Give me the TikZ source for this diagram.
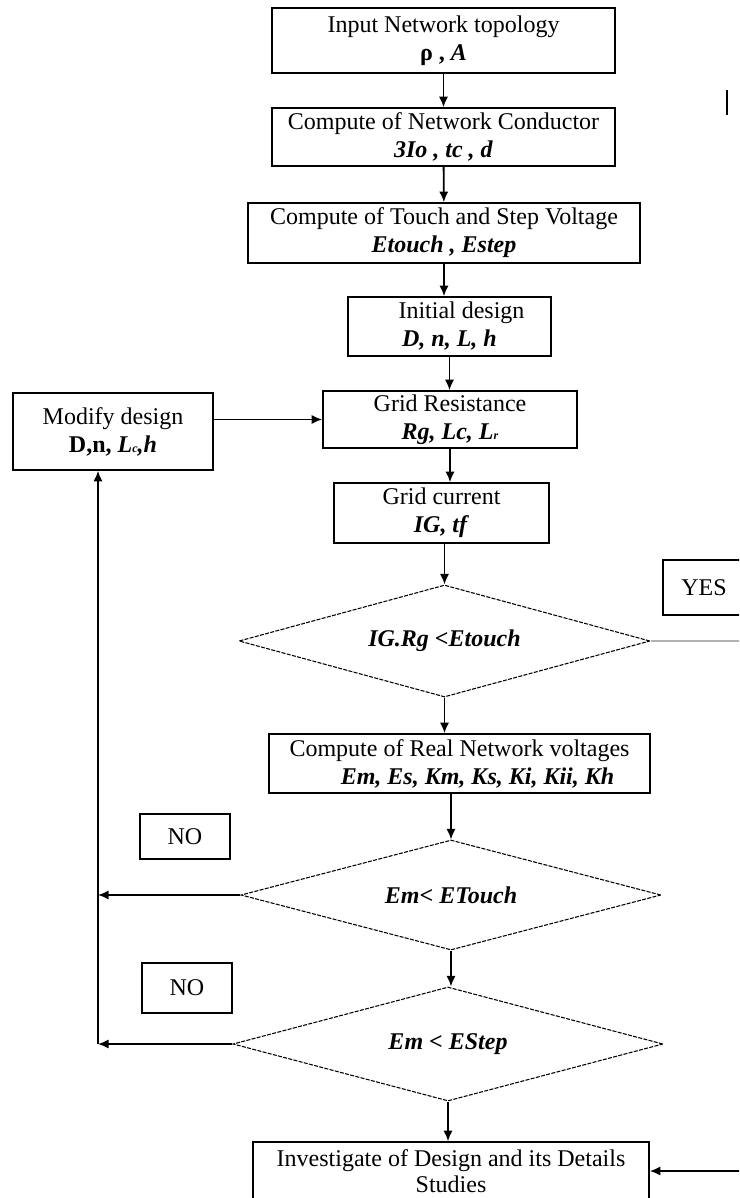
\documentclass[tikz,border=0pt]{standalone}
\usepackage{fontspec}
\setmainfont{Liberation Serif}
\usetikzlibrary{arrows.meta,shapes.geometric}

\begin{document}
\begin{tikzpicture}[
  x=0.75pt,y=-0.75pt,
  every node/.style={font=\fontsize{18}{21}\selectfont},
  procbox/.style 2 args={draw,line width=1.2pt,inner sep=0pt,align=center,minimum width=#1*0.75pt,minimum height=#2*0.75pt},
  testbox/.style 2 args={draw,diamond,aspect=3.7,line width=0.8pt,dash pattern=on 3pt off 1pt,inner sep=0pt,minimum width=#1*0.75pt,minimum height=#2*0.75pt,font=\fontsize{18}{21}\selectfont\bfseries\itshape},
  flow/.style={-{Latex[length=8pt,width=7pt]},line width=1.4pt}
]
  \useasboundingbox (0,0) rectangle (739,1198);
  \clip (0,0) rectangle (739,1198);

  \coordinate (loop) at (98,0);
  \coordinate (rim) at (745,0);

  \node[procbox={343}{65}] (topology) at (443.5,40.5) {Input Network topology\\\textbf{ρ , \textit{A}}};
  \node[procbox={343}{58}] (conductor) at (443.5,137) {Compute of Network Conductor\\\textbf{\textit{3Io , tc , d}}};
  \node[procbox={392}{60}] (voltage) at (444,233) {Compute of Touch and Step Voltage\\\textbf{\textit{Etouch , Estep}}};
  \node[procbox={203}{59}] (initial) at (449.5,326.5) {\hspace*{1em}Initial design\\\textbf{\textit{D, n, L, h}}};
  \node[procbox={254}{57}] (resistance) at (450,419.5) {Grid Resistance\\\textbf{\textit{Rg, Lc, L{\small r}}}};
  \node[procbox={200}{77}] (modify) at (113,431.5) {Modify design\\\textbf{D,n, \textit{L{\small c},h}}};
  \node[procbox={215}{60}] (current) at (441.5,513) {Grid current\\\textbf{\textit{IG, tf}}};
  \node[testbox={411}{112}] (touchtest) at (444.5,641) {IG.Rg <Etouch};
  \node[procbox={82}{55}] (yes) at (704,587.5) {YES};
  \node[procbox={381}{59}] (realvolt) at (459.5,763.5) {Compute of Real Network voltages\\\hspace*{1.5em}\textbf{\textit{Em, Es, Km, Ks, Ki, Kii, Kh}}};
  \node[procbox={90}{45}] (no1) at (185,836.5) {NO};
  \node[testbox={420}{110}] (emtouch) at (451,895) {Em< ETouch};
  \node[procbox={90}{50}] (no2) at (187,988) {NO};
  \node[testbox={430}{114}] (emstep) at (448,1044) {Em < EStep};
  \node[procbox={396}{58},font=\fontsize{18}{19}\selectfont] (investigate) at (451,1171) {Investigate of Design and its Details\\Studies};

  \draw[flow] (topology) -- (conductor);
  \draw[flow] (conductor) -- (voltage);
  \draw[flow] (voltage.south) -- (voltage.south |- initial.north);
  \draw[flow] (initial.south) -- (initial.south |- resistance.north);
  \draw[flow] (resistance.south) -- (resistance.south |- current.north);
  \draw[flow] (current.south -| touchtest.north) -- (touchtest.north);
  \draw[flow] (touchtest.south) -- (touchtest.south |- realvolt.north);
  \draw[flow] (realvolt.south -| emtouch.north) -- (emtouch.north);
  \draw[flow] (emtouch.south) -- (emtouch.south |- emstep.north);
  \draw[flow] (emstep.south) -- (emstep.south |- investigate.north);
  \draw[flow] (modify.east |- resistance.west) -- (resistance.west);
  \draw[flow] (emtouch.west) -- (emtouch.west -| loop);
  \draw[flow] (emstep.west) -- (emstep.west -| loop);
  \draw[flow] (emstep.west -| loop) -- (modify.south -| loop);
  \draw[line width=1.4pt,gray!60] (touchtest.east) -- (touchtest.east -| rim);
  \draw[flow] (rim |- touchtest.east) -- (rim |- investigate.east) -- (investigate.east);

  \draw[line width=0.8pt] (727,90) -- (727,115);
\end{tikzpicture}
\end{document}
